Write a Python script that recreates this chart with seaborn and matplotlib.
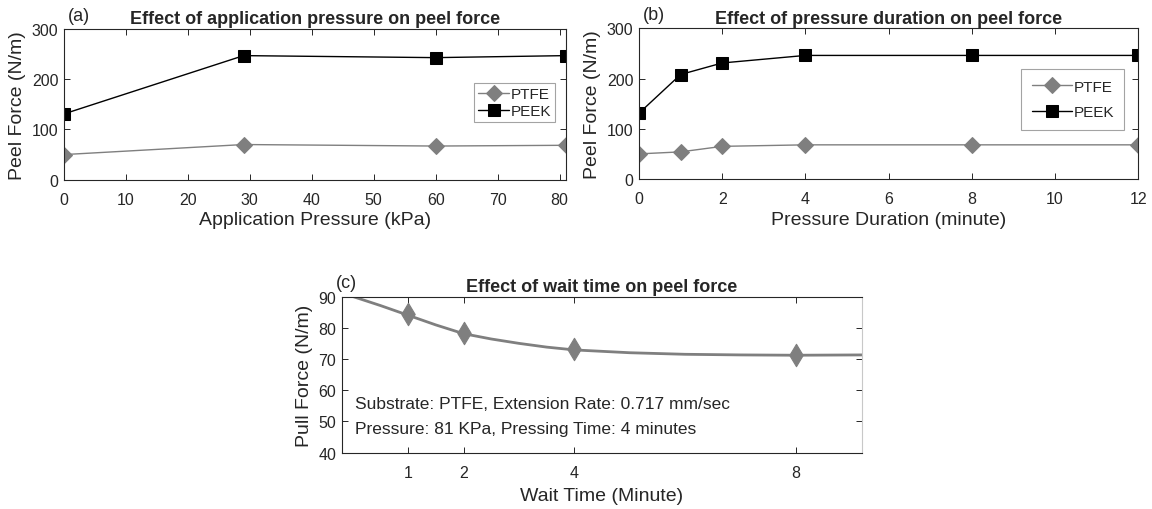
import matplotlib
matplotlib.use("Agg")
import matplotlib.pyplot as plt
import seaborn as sns

# Panel (a): peel force against application pressure
pressure_kpa = [0, 29, 60, 81]
ptfe_by_pressure = [50, 70, 67, 68.5]
peek_by_pressure = [131, 247, 243, 247]

# Panel (b): peel force against pressure duration
duration_min = [0, 1, 2, 4, 8, 12]
ptfe_by_duration = [50, 54, 65, 68, 68, 68]
peek_by_duration = [131, 208, 231, 246, 246, 246]

# Panel (c): pull force against wait time on PTFE
wait_min = [1, 2, 4, 8]
pull_force = [84.4, 78.4, 73.2, 71.3]
# fitted trend through the wait-time measurements
trend_wait = [-0.2, 0, 0.5, 1, 1.5, 2, 2.5, 3, 3.5, 4, 5, 6, 7, 8, 9.2]
trend_force = [91.3, 90.0, 87.1, 84.0, 80.9, 78.1, 76.4, 75.0, 73.8, 72.9,
               72.0, 71.5, 71.3, 71.2, 71.3]

annotation_lines = ["Substrate: PTFE, Extension Rate: 0.717 mm/sec",
                    "Pressure: 81 KPa, Pressing Time: 4 minutes"]

GREY = "#7f7f7f"
BLACK = "#000000"
INK = "#262626"

sns.set_theme(style="ticks")
plt.rcParams["font.family"] = ["Liberation Sans", "DejaVu Sans"]
plt.rcParams.update({
    "text.color": INK,
    "axes.labelcolor": INK,
    "xtick.color": INK,
    "ytick.color": INK,
    "axes.edgecolor": INK,
    "axes.linewidth": 0.8,
})

W, H = 1152, 510
fig = plt.figure(figsize=(W / 100, H / 100), dpi=100)


def box(left, top, right, bottom):
    return [left / W, 1 - bottom / H, (right - left) / W, (bottom - top) / H]


ax_a = fig.add_axes(box(64, 30, 565.7, 180.7))
ax_b = fig.add_axes(box(639, 29.3, 1138.3, 180))
ax_c = fig.add_axes(box(341.7, 297.5, 862.3, 453.7))


def style_axes(ax, tick_size=11.5, label_size=14):
    ax.tick_params(direction="in", top=True, right=True, length=4, width=0.7,
                   labelsize=tick_size)
    ax.tick_params(axis="x", pad=9)
    ax.tick_params(axis="y", pad=4)
    for side in ax.spines.values():
        side.set_visible(True)
        side.set_linewidth(0.8)
        side.set_color(INK)
    ax.xaxis.label.set_size(label_size)
    ax.yaxis.label.set_size(label_size)


def draw_pair(ax, x, ptfe, peek):
    sns.lineplot(x=x, y=ptfe, ax=ax, color=GREY, linewidth=1.0, marker="D",
                 markersize=8.6, markerfacecolor=GREY, markeredgecolor=GREY,
                 label="PTFE")
    sns.lineplot(x=x, y=peek, ax=ax, color=BLACK, linewidth=1.0, marker="s",
                 markersize=8.4, markerfacecolor=BLACK, markeredgecolor=BLACK,
                 label="PEEK")


# (a)
draw_pair(ax_a, pressure_kpa, ptfe_by_pressure, peek_by_pressure)
ax_a.set_xlim(0, 81)
ax_a.set_ylim(0, 300)
ax_a.set_xticks(range(0, 81, 10))
ax_a.set_yticks([0, 100, 200, 300])
ax_a.set_xlabel("Application Pressure (kPa)", labelpad=3)
ax_a.set_ylabel("Peel Force (N/m)", labelpad=4)
ax_a.set_title("Effect of application pressure on peel force",
               fontweight="bold", fontsize=13, pad=4)
style_axes(ax_a)
leg_a = ax_a.legend(loc="center", bbox_to_anchor=(0.898, 0.512), fontsize=11,
                    frameon=True, fancybox=False, handlelength=2.0,
                    handletextpad=0.1, borderpad=0.25, labelspacing=0.2,
                    borderaxespad=0)
leg_a.get_frame().set_edgecolor("#8c8c8c")
leg_a.get_frame().set_linewidth(0.8)

# (b)
draw_pair(ax_b, duration_min, ptfe_by_duration, peek_by_duration)
ax_b.set_xlim(0, 12)
ax_b.set_ylim(0, 300)
ax_b.set_xticks(range(0, 13, 2))
ax_b.set_yticks([0, 100, 200, 300])
ax_b.set_xlabel("Pressure Duration (minute)", labelpad=3)
ax_b.set_ylabel("Peel Force (N/m)", labelpad=4)
ax_b.set_title("Effect of pressure duration on peel force",
               fontweight="bold", fontsize=13, pad=4)
style_axes(ax_b)
leg_b = ax_b.legend(loc="center", bbox_to_anchor=(0.869, 0.528), fontsize=11,
                    frameon=True, fancybox=False, handlelength=2.6,
                    handletextpad=0.1, borderpad=0.7, labelspacing=0.75,
                    borderaxespad=0)
leg_b.get_frame().set_edgecolor("#8c8c8c")
leg_b.get_frame().set_linewidth(0.8)

# (c)
sns.lineplot(x=trend_wait, y=trend_force, ax=ax_c, color=GREY, linewidth=2.0,
             sort=False)
sns.scatterplot(x=wait_min, y=pull_force, ax=ax_c, color=GREY, marker="d",
                s=130, edgecolor=GREY, linewidth=0.8, zorder=3)
ax_c.set_xlim(-0.2, 9.2)
ax_c.set_ylim(40, 90)
ax_c.set_xticks(wait_min)
ax_c.set_yticks(range(40, 91, 10))
ax_c.set_xlabel("Wait Time (Minute)", labelpad=5)
ax_c.set_ylabel("Pull Force (N/m)", labelpad=4)
ax_c.set_title("Effect of wait time on peel force",
               fontweight="bold", fontsize=13, pad=4)
style_axes(ax_c)
ax_c.spines["right"].set_color("#c8c8c8")
for t in ax_c.yaxis.get_ticklines()[1::2]:
    t.set_color("#c8c8c8")
ax_c.text(0.04, 55.6, annotation_lines[0], fontsize=12.5, ha="left",
          va="center")
ax_c.text(0.04, 47.6, annotation_lines[1], fontsize=12.5, ha="left",
          va="center")

# panel letters
fig.text(78.7 / W, 1 - 16.5 / H, "(a)", ha="center", va="center", fontsize=13)
fig.text(654 / W, 1 - 15.5 / H, "(b)", ha="center", va="center", fontsize=13)
fig.text(346.7 / W, 1 - 284 / H, "(c)", ha="center", va="center", fontsize=13)

fig.savefig("out.png", dpi=100)
